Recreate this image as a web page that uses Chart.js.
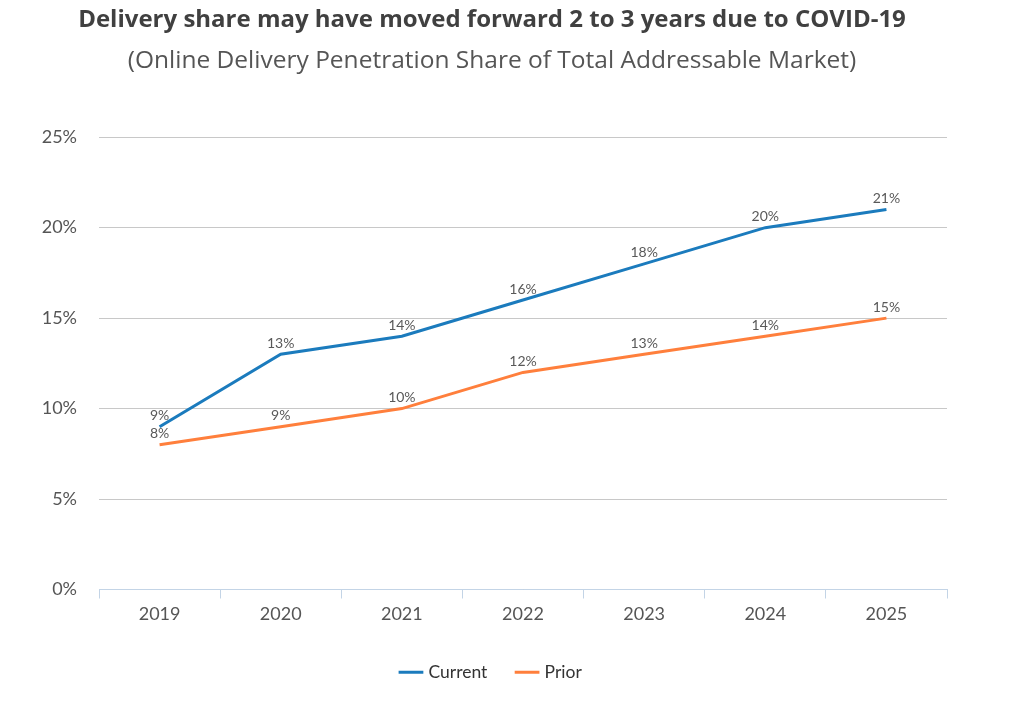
<!DOCTYPE html>
<html>
<head>
<meta charset="utf-8">
<script src="https://cdn.jsdelivr.net/npm/chart.js@4.4.0/dist/chart.umd.min.js"></script>
<style>
html,body{margin:0;padding:0;background:#fff;}
#wrap{width:1024px;height:704px;}
</style>
</head>
<body>
<div id="wrap"><canvas id="c" width="1024" height="704"></canvas></div>
<script>
const years = ["2019","2020","2021","2022","2023","2024","2025"];
const currentShare = [9, 13, 14, 16, 18, 20, 21];
const priorShare = [8, 9, 10, 12, 13, 14, 15];
const yTicks = [0, 5, 10, 15, 20, 25];

const labelPlugin = {
  id: 'pointLabels',
  afterDatasetsDraw(chart) {
    const ctx = chart.ctx;
    ctx.save();
    ctx.font = '14px Lato, "Open Sans", sans-serif';
    ctx.fillStyle = '#595959';
    ctx.textAlign = 'center';
    ctx.textBaseline = 'middle';
    chart.data.datasets.forEach((ds, i) => {
      const meta = chart.getDatasetMeta(i);
      meta.data.forEach((pt, j) => {
        ctx.fillText(ds.data[j] + '%', pt.x, pt.y - 11);
      });
    });
    ctx.restore();
  }
};

new Chart(document.getElementById('c'), {
  type: 'line',
  data: {
    labels: years,
    datasets: [
      { label: 'Current', data: currentShare, borderColor: '#1b7bbd', backgroundColor: '#1b7bbd', borderWidth: 3, pointRadius: 0, tension: 0 },
      { label: 'Prior', data: priorShare, borderColor: '#ff7f3c', backgroundColor: '#ff7f3c', borderWidth: 3, pointRadius: 0, tension: 0 }
    ]
  },
  options: {
    responsive: false,
    animation: false,
    layout: { padding: { left: 37, right: 77, top: 0, bottom: 13 } },
    plugins: {
      title: {
        display: true,
        text: 'Delivery share may have moved forward 2 to 3 years due to COVID-19',
        color: '#404040',
        font: { family: '"Open Sans", sans-serif', size: 24, weight: 'bold' },
        padding: { top: 6, bottom: 12 }
      },
      subtitle: {
        display: true,
        text: '(Online Delivery Penetration Share of Total Addressable Market)',
        color: '#555555',
        font: { family: '"Open Sans", sans-serif', size: 24.5 },
        padding: { top: 0, bottom: 61 }
      },
      legend: {
        position: 'bottom',
        labels: {
          usePointStyle: true,
          pointStyle: 'line',
          boxWidth: 24,
          color: '#333333',
          font: { family: 'Lato, "Open Sans", sans-serif', size: 17.5 },
          padding: 31
        }
      },
      tooltip: { enabled: false }
    },
    scales: {
      x: {
        offset: true,
        grid: { offset: true, drawOnChartArea: false, drawTicks: true, tickLength: 9, color: '#c3d4e6' },
        border: { color: '#c3d4e6', width: 1 },
        ticks: { color: '#555555', font: { family: 'Lato, "Open Sans", sans-serif', size: 18 }, padding: 5 },
        afterFit(s) { s.height = 43; }
      },
      y: {
        min: 0, max: 25,
        afterBuildTicks(s) { s.ticks = yTicks.map(v => ({ value: v })); },
        grid: { color: '#c8c8c8', drawTicks: false, lineWidth: 1 },
        border: { display: false },
        ticks: { color: '#555555', font: { family: 'Lato, "Open Sans", sans-serif', size: 18 }, padding: 22, callback: v => v + '%' },
        afterFit(s) { s.width = 62; }
      }
    }
  },
  plugins: [labelPlugin]
});
</script>
</body>
</html>
